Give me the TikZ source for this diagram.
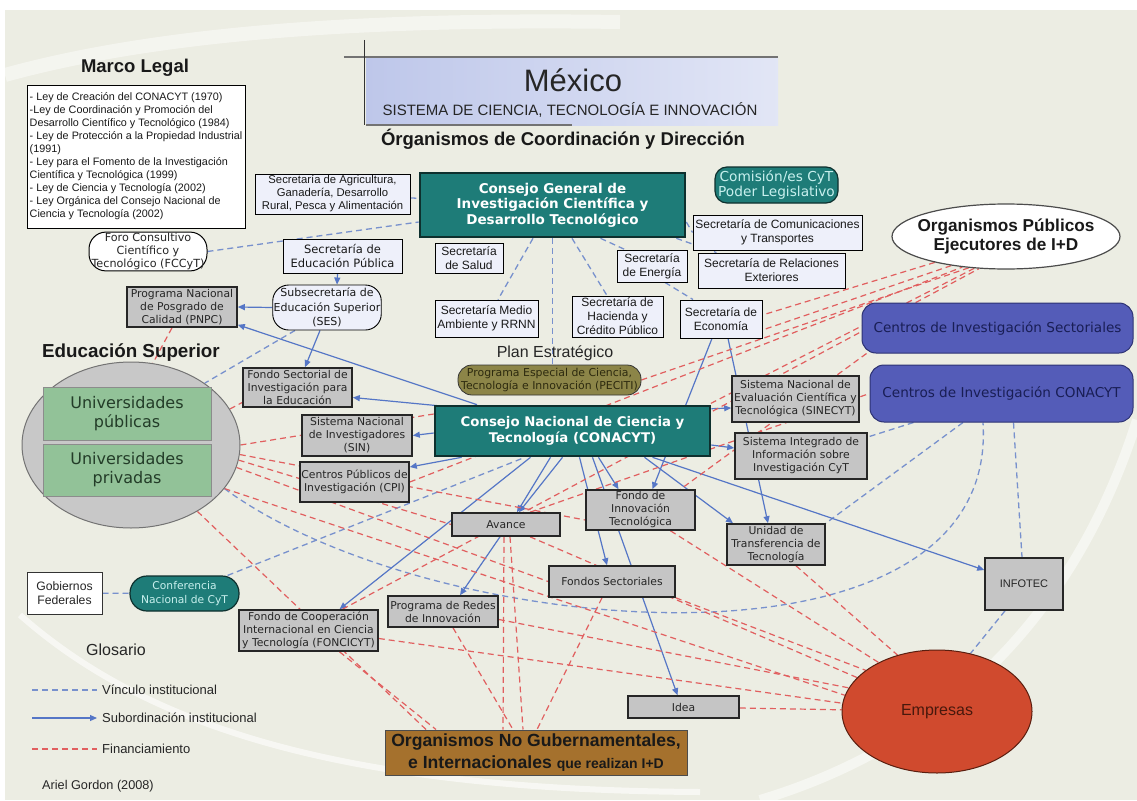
\documentclass[tikz,border=0pt]{standalone}
\usepackage{fontspec}
\setmainfont{Liberation Sans}
\newfontfamily\verd{DejaVu Sans}
\usetikzlibrary{arrows.meta,shapes.geometric,backgrounds}
\definecolor{bgc}{RGB}{236,237,227}
\definecolor{titlec}{RGB}{190,199,234}
\definecolor{lavc}{RGB}{238,240,250}
\definecolor{grayc}{RGB}{197,197,197}
\definecolor{tealc}{RGB}{30,124,120}
\definecolor{tealdk}{RGB}{14,48,46}
\definecolor{tealtxt}{RGB}{200,240,238}
\definecolor{olivec}{RGB}{140,133,72}
\definecolor{olivetxt}{RGB}{45,42,15}
\definecolor{centc}{RGB}{84,92,184}
\definecolor{centdk}{RGB}{45,50,115}
\definecolor{centtxt}{RGB}{25,30,85}
\definecolor{greenc}{RGB}{146,194,152}
\definecolor{greentxt}{RGB}{35,60,40}
\definecolor{ellc}{RGB}{200,200,200}
\definecolor{empc}{RGB}{208,74,46}
\definecolor{empdk}{RGB}{90,30,15}
\definecolor{ongc}{RGB}{165,113,45}
\definecolor{vincol}{RGB}{120,145,205}
\definecolor{subcol}{RGB}{85,118,198}
\definecolor{fincol}{RGB}{225,95,95}
\newcommand{\fsz}[2]{\fontsize{#1}{#2}\selectfont}
\tikzset{
  sz/.style 2 args={minimum width=#1pt, minimum height=#2pt},
  hd/.style={font=\bfseries\fsz{18.5}{20}, text=black!90, inner sep=0pt},
  txt/.style={inner sep=0pt, text=black!85},
  lav/.style={draw=black, line width=0.9pt, fill=lavc, align=center, inner sep=1pt, text=black!90, font=\fsz{12}{14}},
  gbox/.style={draw=black!85, line width=1.6pt, fill=grayc, align=center, inner sep=1pt, text=black!85, font=\verd\fsz{10.8}{13}},
  tealbox/.style={draw=tealdk, line width=2.6pt, fill=tealc, align=center, inner sep=1pt, text=white, font=\verd\bfseries\fsz{13.5}{15.5}},
  tealround/.style={draw=tealdk, line width=1.2pt, fill=tealc, align=center, inner sep=1pt, text=tealtxt},
  olivebox/.style={draw=black!80, line width=0.8pt, fill=olivec, rounded corners=14pt, align=center, inner sep=1pt, text=olivetxt, font=\verd\fsz{10.9}{12.5}},
  centbox/.style={draw=centdk, line width=1pt, fill=centc, rounded corners=14pt, align=center, text=centtxt, font=\verd\fsz{13.6}{15}},
  greenbox/.style={draw=black!45, line width=0.8pt, fill=greenc, align=center, inner sep=1pt, text=greentxt, font=\verd\fsz{16}{19}},
  vinc/.style={draw=vincol, line width=1.3pt, dash pattern=on 6pt off 4pt},
  subord/.style={draw=subcol, line width=1.2pt, -{Triangle[length=7pt,width=6pt]}},
  fin/.style={draw=fincol, line width=1.2pt, dash pattern=on 6pt off 4pt}
}

\begin{document}
\begin{tikzpicture}[x=1pt,y=-1pt]
  \useasboundingbox (0,0) rectangle (1137,800);
  \begin{scope}[on background layer]
    \fill[white] (0,0) rectangle (1137,800);
    \fill[bgc] (5,10) rectangle (1137,800);
    \draw[white, opacity=.45, line width=14pt] (5,75) .. controls (150,35) and (350,18) .. (620,22);
    \draw[white, opacity=.6, line width=6pt] (20,615) .. controls (150,730) and (350,790) .. (700,792);
    \draw[white, opacity=.5, line width=10pt] (1137,420) .. controls (1080,600) and (960,740) .. (760,800);
  \end{scope}

  % ---- title ----
  \node[sz={412}{68}, left color=titlec, right color=titlec!45!white, inner sep=0pt] (title) at (572,91) {};
  \node[txt, font=\fsz{31}{31}] (mexico) at (573,80) {México};
  \node[txt, font=\fsz{15}{15}] (sist) at (570,110) {SISTEMA DE CIENCIA, TECNOLOGÍA E INNOVACIÓN};
  \draw[black!55, line width=1.6pt] ([xshift=-22pt]title.north west) -- (title.north east);
  \draw[black!80, line width=1pt] ([xshift=-1pt,yshift=17pt]title.north west) -- ([xshift=-1pt]title.south west);
  \draw[black!55, line width=1.6pt] (title.south west) -- ([xshift=206pt]title.south west);

  % ---- marco legal ----
  \node[hd] (marco) at (135,68) {Marco Legal};
  \node[draw=black, line width=1pt, fill=white, sz={218}{143}, align=left, inner sep=2pt, text=black!90, font=\fsz{10.8}{13}] (legal) at (136,156.5)
    {- Ley de Creación del CONACYT (1970)\\-Ley de Coordinación y Promoción del\\Desarrollo Científico y Tecnológico (1984)\\- Ley de Protección a la Propiedad Industrial\\(1991)\\- Ley para el Fomento de la Investigación\\Científica y Tecnológica (1999)\\- Ley de Ciencia y Tecnología (2002)\\- Ley Orgánica del Consejo Nacional de\\Ciencia y Tecnología (2002)};

  % ---- coordinacion y direccion ----
  \node[hd] (organ) at (563,139) {Órganismos de Coordinación y Dirección};
  \node[lav, sz={155}{40}, font=\fsz{11.3}{13}] (agri) at (332.5,194) {Secretaría de Agricultura,\\Ganadería, Desarrollo\\Rural, Pesca y Alimentación};
  \node[tealbox, sz={265}{64}] (cg) at (552.5,205) {Consejo General de\\Investigación Científica y\\Desarrollo Tecnológico};
  \node[tealround, sz={123}{36}, rounded corners=12pt, font=\verd\fsz{13.7}{15}] (comis) at (776.5,185) {Comisión/es CyT\\Poder Legislativo};
  \node[lav, sz={169}{35}] (sct) at (777.5,232.5) {Secretaría de Comunicaciones\\y Transportes};
  \node[lav, sz={147}{35}] (sre) at (771.5,270.5) {Secretaría de Relaciones\\Exteriores};
  \node[lav, sz={70}{32}] (ener) at (652,266) {Secretaría\\de Energía};
  \node[lav, sz={82}{38}] (econ) at (721,319) {Secretaría de\\Economía};
  \node[lav, sz={91}{41}] (shcp) at (617.5,316.5) {Secretaría de\\Hacienda y\\Crédito Público};
  \node[lav, sz={103}{37}] (medio) at (486.5,318.5) {Secretaría Medio\\Ambiente y RRNN};
  \node[lav, sz={68}{30}] (salud) at (469,258) {Secretaría\\de Salud};
  \node[lav, sz={119}{34}, font=\verd\fsz{11.5}{14}] (sep) at (342.5,256) {Secretaría de\\Educación Pública};
  \node[draw=black, line width=1pt, fill=white, rounded corners=17pt, sz={118}{37}, align=center, inner sep=1pt, text=black!85, font=\verd\fsz{11.2}{13}] (foro) at (148,251.5) {Foro Consultivo\\Científico y\\Tecnológico (FCCyT)};
  \node[lav, rounded corners=16pt, sz={108}{45}, font=\verd\fsz{11}{14.5}] (ses) at (327,307.5) {Subsecretaría de\\Educación Superior\\(SES)};
  \node[gbox, sz={110}{40}] (pnpc) at (182,307) {Programa Nacional\\de Posgrado de\\Calidad (PNPC)};

  % ---- educacion superior ----
  \node[ellipse, draw=black!55, line width=1pt, fill=ellc, sz={218}{166}, inner sep=0pt] (uni) at (131,445) {};
  \node[hd, font=\bfseries\fsz{18.8}{20}] (edsup) at (131,353) {Educación Superior};
  \node[greenbox, sz={168}{53}] (upub) at (127,413.5) {Universidades\\públicas};
  \node[greenbox, sz={168}{52}] (upriv) at (127,470) {Universidades\\privadas};
  \node[gbox, sz={109}{39}] (fsie) at (297.5,387.5) {Fondo Sectorial de\\Investigación para\\la Educación};
  \node[gbox, sz={110}{41}] (sni) at (357,435.5) {Sistema Nacional\\de Investigadores\\(SIN)};
  \node[gbox, sz={109}{40}] (cpi) at (354.5,482) {Centros Públicos de\\Investigación (CPI)};

  % ---- conacyt ----
  \node[txt, font=\fsz{16}{16}] (plan) at (555,353) {Plan Estratégico};
  \node[olivebox, sz={183}{30}] (peciti) at (549.5,380) {Programa Especial de Ciencia,\\Tecnología e Innovación (PECITI)};
  \node[tealbox, sz={275}{50}, font=\verd\bfseries\fsz{13.3}{16}] (conacyt) at (572.5,431) {Consejo Nacional de Ciencia y\\Tecnología (CONACYT)};
  \node[gbox, sz={127}{46}] (sinecyt) at (795.5,399) {Sistema Nacional de\\Evaluación Científica y\\Tecnológica (SINECYT)};
  \node[gbox, sz={132}{46}] (siicyt) at (801,456) {Sistema Integrado de\\Información sobre\\Investigación CyT};

  % ---- ejecutores ----
  \node[ellipse, draw=black!70, line width=1.2pt, fill=white, sz={228}{65}, inner xsep=-24pt, inner ysep=0pt, align=center, text=black!90, font=\bfseries\fsz{17.2}{19}] (ope) at (1006,236.5) {Organismos Públicos\\Ejecutores de I+D};
  \node[centbox, sz={271}{50}] (cis) at (997.5,328) {Centros de Investigación Sectoriales};
  \node[centbox, sz={263}{57}] (cic) at (1001.5,393.5) {Centros de Investigación CONACYT};
  \node[gbox, sz={98}{41}] (utt) at (776,544.5) {Unidad de\\Transferencia de\\Tecnología};
  \node[gbox, sz={78}{52}, font=\fsz{11}{13}] (infotec) at (1024,584) {INFOTEC};
  \node[ellipse, draw=empdk, line width=1pt, fill=empc, sz={190}{123}, text=empdk!80!black, font=\fsz{16}{16}] (emp) at (937,711.5) {Empresas};

  % ---- fondos y programas ----
  \node[gbox, sz={109}{40}] (fit) at (640.5,510) {Fondo de\\Innovación\\Tecnológica};
  \node[gbox, sz={108}{23}] (avance) at (506,524.5) {Avance};
  \node[gbox, sz={126}{31}] (fsect) at (612,581.5) {Fondos Sectoriales};
  \node[gbox, sz={110}{31}] (redes) at (443,611.5) {Programa de Redes\\de Innovación};
  \node[gbox, sz={111}{22}] (idea) at (683.5,707) {Idea};
  \node[draw=black!70, line width=1pt, fill=ongc, sz={302}{45}, align=center, inner sep=1pt, text=black!90, font=\bfseries\fsz{17.6}{22}] (ong) at (536,752.5) {Organismos No Gubernamentales,\\e Internacionales {\fsz{14}{22}que realizan I+D}};
  \node[draw=black!80, line width=1pt, fill=white, sz={75}{42}, align=center, inner sep=1pt, text=black!85, font=\fsz{12.2}{13.5}] (gob) at (64.5,593) {Gobiernos\\Federales};
  \node[tealround, rounded corners=17pt, sz={109}{35}, font=\verd\fsz{10.7}{13.5}] (conf) at (184.5,593.5) {Conferencia\\Nacional de CyT};
  \node[gbox, sz={139}{41}] (foncicyt) at (308.5,630.5) {Fondo de Cooperación\\Internacional en Ciencia\\y Tecnología (FONCICYT)};

  % ---- glosario ----
  \node[txt, font=\fsz{16}{16}] (glos) at (116,650) {Glosario};
  \coordinate (l1a) at (32,690); \coordinate (l1b) at (97,690);
  \coordinate (l2a) at (32,718); \coordinate (l2b) at (97,718);
  \coordinate (l3a) at (32,749); \coordinate (l3b) at (97,749);
  \draw[vinc] (l1a) -- (l1b);
  \draw[subord] (l2a) -- (l2b);
  \draw[fin] (l3a) -- (l3b);
  \node[txt, anchor=west, font=\fsz{13}{13}] (l1t) at (102,690) {Vínculo institucional};
  \node[txt, anchor=west, font=\fsz{13}{13}] (l2t) at (102,718) {Subordinación institucional};
  \node[txt, anchor=west, font=\fsz{13}{13}] (l3t) at (102,749) {Financiamiento};
  \node[txt, anchor=west, font=\fsz{12.7}{12.7}] (autor) at (42,786) {Ariel Gordon (2008)};

  % ---- vinculo institucional ----
  \begin{scope}[on background layer]
    \draw[vinc] (agri) -- (cg);
    \draw[vinc] (foro.east) -- ([yshift=-17pt]cg.west);
    \draw[vinc] ([xshift=-19.5pt]cg.south) -- ([xshift=11.5pt]medio.north);
    \draw[vinc] (cg.south) -- ([xshift=3pt]peciti.north);
    \draw[vinc] ([xshift=19.5pt]cg.south) -- ([xshift=-10.5pt]shcp.north);
    \draw[vinc] ([xshift=48pt]cg.south) -- ([xshift=-27pt]ener.north);
    \draw[vinc] ([xshift=13pt]ener.south) -- ([xshift=-28pt]econ.north);
    \draw[vinc] ([yshift=-17pt]cg.east) -- (sct.west);
    \draw[vinc] ([xshift=-10pt]cg.south east) -- ([xshift=-55pt]sre.north);
    \draw[vinc] ([xshift=-32pt]ses.south) -- (uni.40);
    \draw[vinc] (gob) -- (conf);
    \draw[vinc] ([xshift=-12pt]conf.north east) -- ([xshift=-47.5pt]conacyt.south);
    \draw[vinc] (uni.-25) .. controls (430,640) and (1000,690) .. ([xshift=-18.5pt]cic.south);
    \draw[vinc] ([xshift=-88pt]cic.south) -- ([yshift=19pt]siicyt.east);
    \draw[vinc] ([xshift=-38.5pt]cic.south) -- (utt.north east);
    \draw[vinc] ([xshift=12pt]cic.south) -- ([xshift=-2pt]infotec.north);
    \draw[vinc] ([xshift=-19pt]infotec.south) -- (emp.60);
  \end{scope}

  % ---- subordinacion ----
  \begin{scope}[on background layer]
    \draw[subord] ([xshift=-5pt]sep.south) -- ([xshift=10pt]ses.north);
    \draw[subord] (ses.west) -- (pnpc.east);
    \draw[subord] ([xshift=-7pt]ses.south) -- ([xshift=7.5pt]fsie.north);
    \draw[subord] ([xshift=-95.5pt]conacyt.north) -- ([yshift=3pt]pnpc.south east);
    \draw[subord] ([xshift=25pt,yshift=-3pt]conacyt.north west) -- ([yshift=-10pt]fsie.east);
    \draw[subord] ([yshift=-2pt]conacyt.west) -- (sni.east);
    \draw[subord] ([xshift=28pt]conacyt.south west) -- ([yshift=15pt]cpi.east);
    \draw[subord] ([xshift=-22pt]conacyt.south) -- ([xshift=11pt]avance.north);
    \draw[subord] ([xshift=-10pt]conacyt.south) -- ([xshift=13pt]avance.north);
    \draw[subord] ([xshift=-6pt]avance.south) -- ([xshift=17pt]redes.north);
    \draw[subord] ([xshift=-42pt]conacyt.south) -- ([xshift=31pt]foncicyt.north);
    \draw[subord] ([xshift=7pt]conacyt.south) -- ([xshift=-5pt]fsect.north);
    \draw[subord] ([xshift=20pt]conacyt.south) -- ([xshift=-6pt]idea.north);
    \draw[subord] ([xshift=26pt]conacyt.south) -- ([xshift=-22pt]fit.north);
    \draw[subord] ([xshift=-9pt]econ.south) -- ([xshift=12pt]fit.north);
    \draw[subord] ([xshift=7pt]econ.south) -- ([xshift=-8pt]utt.north);
    \draw[subord] ([yshift=-4pt]conacyt.north east) -- ([yshift=-9pt]sinecyt.west);
    \draw[subord] ([yshift=-14pt]conacyt.east) -- ([yshift=8pt]siicyt.west);
    \draw[subord] ([xshift=72pt]conacyt.south) -- ([xshift=-43pt]utt.north);
    \draw[subord] ([xshift=80pt]conacyt.south) -- ([yshift=14pt]infotec.west);
  \end{scope}

  % ---- financiamiento ----
  \begin{scope}[on background layer]
    \draw[fin] ([xshift=-10pt]pnpc.south) -- (uni.75);
    \draw[fin] (uni.20) -- ([yshift=-15pt]fsie.west);
    \draw[fin] (uni.east) -- ([yshift=17pt]conacyt.west);
    \draw[fin] (uni.-5) -- ([yshift=-10pt]fit.west);
    \draw[fin] (uni.-8) -- (avance.west);
    \draw[fin] (uni.-12) -- (fsect.west);
    \draw[fin] (uni.-25) -- (emp.170);
    \draw[fin] (uni.-45) -- ([xshift=-110pt]ong.north);
    \draw[fin] ([yshift=-8pt]foncicyt.east) -- (emp.175);
    \draw[fin] ([xshift=31pt]foncicyt.south) -- ([xshift=-100pt]ong.north);
    \draw[fin] ([xshift=34pt]foncicyt.north) -- (ope.230);
    \draw[fin] ([xshift=10pt]redes.south) -- ([xshift=-23pt]ong.north);
    \draw[fin] ([xshift=-2pt]avance.south) -- ([xshift=-33pt]ong.north);
    \draw[fin] ([xshift=4pt]avance.south) -- ([xshift=-13pt]ong.north);
    \draw[fin] ([xshift=-10pt]fsect.south) -- ([xshift=1pt]ong.north);
    \draw[fin] ([yshift=-8pt]redes.east) -- (emp.165);
    \draw[fin] ([xshift=24pt]avance.south) -- (emp.157);
    \draw[fin] (fsect.south east) -- (emp.150);
    \draw[fin] ([xshift=30pt]fit.south) -- (emp.140);
    \draw[fin] ([xshift=20pt]utt.south) -- (emp.125);
    \draw[fin] (idea) -- (emp);
    \draw[fin] (cpi.east) -- (ope.215);
    \draw[fin] (ope.200) -- ([yshift=4pt]econ.east);
    \draw[fin] (ope.208) -- ([yshift=-11pt]econ.east);
    \draw[fin] (ope.220) -- (peciti.east);
    \draw[fin] (ope.225) -- ([xshift=-3pt]conacyt.north east);
    \draw[fin] ([xshift=5pt]cis.south west) -- ([xshift=40pt]fit.north);
    \draw[fin] ([xshift=24pt]avance.north) -- (cic.west);
  \end{scope}
\end{tikzpicture}
\end{document}
